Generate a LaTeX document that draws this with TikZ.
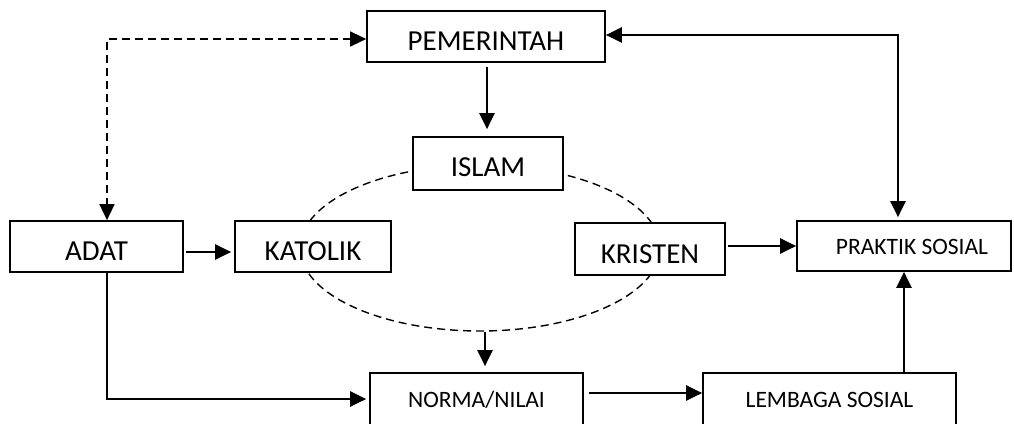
\documentclass[tikz,border=0pt]{standalone}
\usepackage{fontspec}
\setmainfont{Carlito}
\usetikzlibrary{arrows.meta,shapes.geometric}
\begin{document}
\begin{tikzpicture}[x=1pt,y=-1pt,
  box/.style={draw, line width=1.7pt, fill=white, inner sep=0pt},
  big/.style={font=\fontsize{29}{34}\selectfont},
  small/.style={font=\fontsize{23.5}{28}\selectfont},
  tb/.style={text height=#1pt, text depth=0pt},
  arr/.style={line width=2.3pt, -{Triangle[length=16pt,width=15pt]}},
  darr/.style={line width=1.5pt, dash pattern=on 8pt off 5pt},
  tip/.style={{Triangle[length=16pt,width=15pt]}-{Triangle[length=16pt,width=15pt]}}
]
\clip (0,0) rectangle (1014,423);
\fill[white] (0,0) rectangle (1014,423);

% dashed ellipse (behind boxes)
\node[ellipse, draw, line width=1.4pt, dash pattern=on 8pt off 5pt,
      minimum width=360pt, minimum height=166pt, inner sep=0pt] (ell) at (480,248) {};

% boxes
\node[box, big, tb=27, minimum width=238pt, minimum height=51pt] (pem) at (486,36.5) {PEMERINTAH};
\node[box, big, tb=25, minimum width=150pt, minimum height=53pt] (isl) at (488,163.5) {ISLAM};
\node[box, big, tb=27, minimum width=173pt, minimum height=51pt] (adat) at (96.5,246.5) {ADAT};
\node[box, big, tb=27, minimum width=156pt, minimum height=51pt] (kat) at (313,246.5) {KATOLIK\hspace{13pt}};
\node[box, big, tb=28, minimum width=150pt, minimum height=52pt] (kris) at (650,249) {KRISTEN\hspace{10pt}};
\node[box, small, tb=16, minimum width=214pt, minimum height=50pt] (prak) at (904,246) {\hspace{16pt}PRAKTIK SOSIAL};
\node[box, small, tb=16, minimum width=213pt, minimum height=52pt] (norma) at (476.5,399) {NORMA/NILAI};
\node[box, small, tb=16, minimum width=253pt, minimum height=52pt] (lemb) at (829.5,399) {LEMBAGA SOSIAL\hspace{5pt}};

% dashed connector PEMERINTAH <-> ADAT
\coordinate (dc) at (107,39);
\draw[darr, tip] (dc -| pem.west) -- (dc) -- (dc |- adat.north);

% PEMERINTAH <-> PRAKTIK SOSIAL
\coordinate (rc) at (898,35);
\draw[line width=2.3pt, tip, shorten >=3pt] (rc -| pem.east) -- (rc) -- (rc |- prak.north);

% PEMERINTAH -> ISLAM
\draw[arr, shorten <=4pt, shorten >=7pt] (pem.south -| 487,0) -- (isl.north -| 487,0);

% ADAT -> KATOLIK
\draw[arr, shorten <=2pt, shorten >=3pt] ([yshift=-5.5pt]adat.east) -- ([yshift=-5.5pt]kat.west);

% ADAT -> NORMA/NILAI
\draw[arr, shorten >=3pt] ([xshift=10.5pt]adat.south) |- (norma.west);

% ellipse -> NORMA/NILAI
\draw[arr, shorten >=6pt] ([xshift=5pt]ell.south) -- ([xshift=5pt]ell.south |- norma.north);

% KRISTEN -> PRAKTIK SOSIAL
\draw[arr, shorten <=2pt] (prak.west -| kris.east) -- (prak.west);

% NORMA -> LEMBAGA
\draw[arr, shorten <=5pt] ([yshift=6pt]norma.east) -- ([yshift=6pt]lemb.west);

% LEMBAGA -> PRAKTIK
\draw[arr] (prak.south |- lemb.north) -- (prak.south);
\end{tikzpicture}
\end{document}
